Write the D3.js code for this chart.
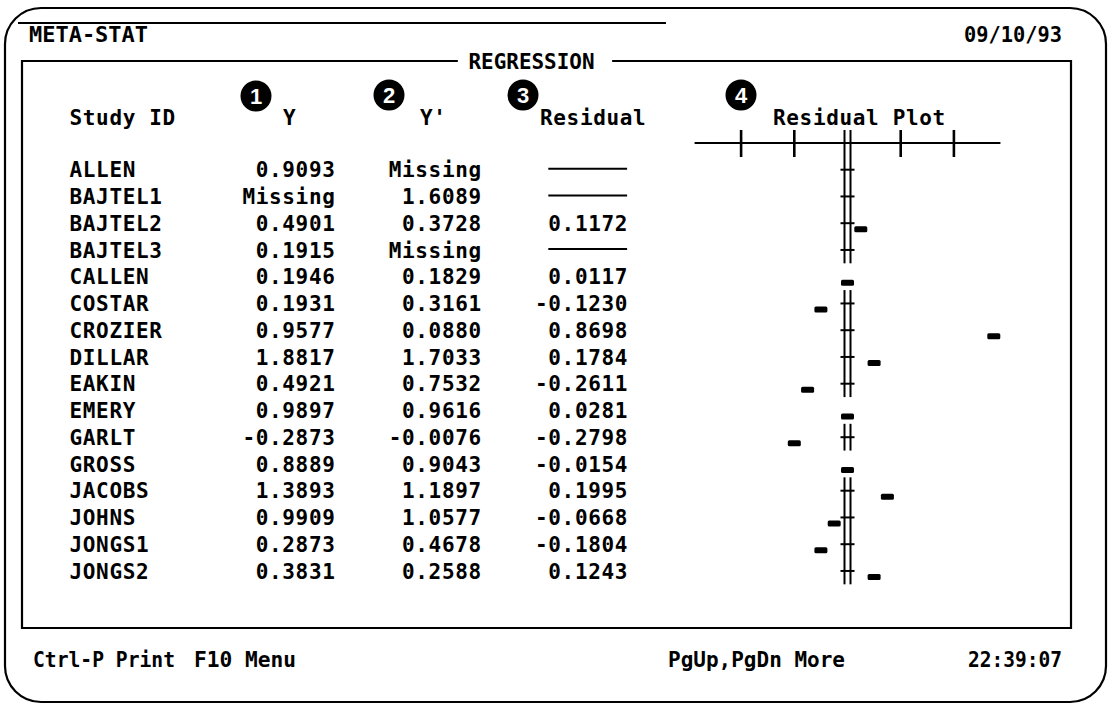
<!DOCTYPE html>
<html><head><meta charset="utf-8">
<script src="https://cdn.jsdelivr.net/npm/d3@7"></script>
<style>
html,body{margin:0;padding:0;background:#fff;}
svg{display:block;}
text{font-family:"DejaVu Sans Mono","Liberation Mono",monospace;font-weight:bold;fill:#000;}
</style></head>
<body>
<svg id="chart" width="1108" height="704"></svg>
<script>
// ---------- data ----------
const studies = ["ALLEN","BAJTEL1","BAJTEL2","BAJTEL3","CALLEN","COSTAR","CROZIER","DILLAR","EAKIN","EMERY","GARLT","GROSS","JACOBS","JOHNS","JONGS1","JONGS2"];
const yObs = [0.9093, null, 0.4901, 0.1915, 0.1946, 0.1931, 0.9577, 1.8817, 0.4921, 0.9897, -0.2873, 0.8889, 1.3893, 0.9909, 0.2873, 0.3831];
const yPred = [null, 1.6089, 0.3728, null, 0.1829, 0.3161, 0.0880, 1.7033, 0.7532, 0.9616, -0.0076, 0.9043, 1.1897, 1.0577, 0.4678, 0.2588];
const residual = [null, null, 0.1172, null, 0.0117, -0.1230, 0.8698, 0.1784, -0.2611, 0.0281, -0.2798, -0.0154, 0.1995, -0.0668, -0.1804, 0.1243];
const plotTicks = [-0.636, -0.318, 0.318, 0.636];
const headers = ["Study ID", "Y", "Y'", "Residual", "Residual Plot"];
const badges = ["1", "2", "3", "4"];

// ---------- layout ----------
const svg = d3.select("#chart");
const CELL = 13.3, X0 = 3, FS = 21;
const LS = CELL - 0.602 * FS;           // letter spacing to fill text cells
const col = c => X0 + c * CELL;
const rowY = d3.scalePoint().domain(d3.range(studies.length)).range([169.7, 169.7 + 26.75 * 15]);
const fmt = v => v == null ? "Missing" : v.toFixed(4);

function txt(str, x, y, anchorEndCol, width) {
  const t = svg.append("text").attr("y", y).attr("font-size", FS).text(str);
  if (anchorEndCol != null) t.attr("x", col(anchorEndCol - str.length));
  else t.attr("x", x);
  if (width) t.attr("textLength", width).attr("lengthAdjust", "spacingAndGlyphs");
  else t.attr("letter-spacing", LS);
  return t;
}

// outer frame
svg.append("rect").attr("x", 5).attr("y", 8).attr("width", 1101).attr("height", 694)
  .attr("rx", 36).attr("ry", 36).attr("fill", "none").attr("stroke", "#000").attr("stroke-width", 2.2);
svg.append("line").attr("x1", 18).attr("x2", 666).attr("y1", 23).attr("y2", 23)
  .attr("stroke", "#000").attr("stroke-width", 2);

// title bar
txt("META-STAT", 29, 42, null, 119);
txt("09/10/93", 964, 42, null, 98);

// inner box
const box = {l: 22, t: 61, r: 1071, b: 628};
svg.append("path").attr("fill", "none").attr("stroke", "#000").attr("stroke-width", 2.2)
  .attr("d", `M${col(34.2)},${box.t} H${box.l} V${box.b} H${box.r} V${box.t} H${col(45.8)}`);
txt("REGRESSION", col(35), 69, null, 126);

// headers
const headerY = 125;
txt(headers[0], col(5), headerY);
txt(headers[1], 283, headerY);
txt(headers[2], 420, headerY);
txt(headers[3], 540, headerY);
txt(headers[4], 773, headerY);

const badgePos = [[256, 96], [389, 95], [523, 95], [741, 95]];
badges.forEach((b, i) => {
  svg.append("circle").attr("cx", badgePos[i][0]).attr("cy", badgePos[i][1]).attr("r", 15.5).attr("fill", "#000");
  svg.append("text").attr("x", badgePos[i][0]).attr("y", badgePos[i][1] + 8)
    .attr("text-anchor", "middle").attr("font-size", 22)
    .style("font-family", "'Liberation Sans',Arial,sans-serif").style("fill", "#fff").text(b);
});

// table rows
studies.forEach((s, i) => {
  const y = rowY(i) + 7.6;
  txt(s, col(5), y);
  txt(fmt(yObs[i]), null, y, 25);
  txt(fmt(yPred[i]), null, y, 36);
  if (residual[i] == null) {
    svg.append("line").attr("x1", col(41)).attr("x2", col(47) - 1)
      .attr("y1", rowY(i) - 1).attr("y2", rowY(i) - 1)
      .attr("stroke", "#000").attr("stroke-width", 2);
  } else {
    txt(fmt(residual[i]), null, y, 47);
  }
});

// residual plot
const zeroX = 847.5;
const x = d3.scaleLinear().domain([-1, 1]).range([zeroX - 12.58 * CELL, zeroX + 12.58 * CELL]);
const cellOf = v => Math.round((x(v) - zeroX) / CELL);
const axisY = 143;
svg.append("line").attr("x1", x(-0.914)).attr("x2", x(0.914)).attr("y1", axisY).attr("y2", axisY)
  .attr("stroke", "#000").attr("stroke-width", 2);
plotTicks.forEach(t => {
  const tx = zeroX + cellOf(t) * CELL;
  svg.append("line").attr("x1", tx).attr("x2", tx).attr("y1", 130).attr("y2", 157)
    .attr("stroke", "#000").attr("stroke-width", 2.6);
});

// zero reference double line, broken where a marker sits on zero
const half = 26.75 / 2;
const segs = [];
let start = 130;
studies.forEach((s, i) => {
  const r = residual[i];
  if (r != null && cellOf(r) === 0) {
    segs.push([start, rowY(i) - half]);
    start = rowY(i) + half;
  }
});
segs.push([start, rowY(studies.length - 1) + half]);
segs.forEach(([a, b]) => {
  [-3, 3].forEach(dx => {
    svg.append("line").attr("x1", zeroX + dx).attr("x2", zeroX + dx).attr("y1", a).attr("y2", b)
      .attr("stroke", "#000").attr("stroke-width", 2);
  });
});
studies.forEach((s, i) => {
  const r = residual[i];
  if (r != null && cellOf(r) === 0) return;
  svg.append("line").attr("x1", zeroX - 7).attr("x2", zeroX + 7).attr("y1", rowY(i)).attr("y2", rowY(i))
    .attr("stroke", "#000").attr("stroke-width", 2);
});
// markers
studies.forEach((s, i) => {
  const r = residual[i];
  if (r == null) return;
  const cx = zeroX + cellOf(r) * CELL;
  svg.append("rect").attr("x", cx - 6.5).attr("y", rowY(i) + 3).attr("width", 13).attr("height", 6)
    .attr("rx", 1.5).attr("fill", "#000");
});

// footer
const footY = 667;
txt("Ctrl-P Print", 33, footY, null, 142);
txt("F10 Menu", 194, footY, null, 102);
txt("PgUp,PgDn More", 668, footY, null, 177);
txt("22:39:07", 968, footY, null, 94);
</script>
</body></html>
